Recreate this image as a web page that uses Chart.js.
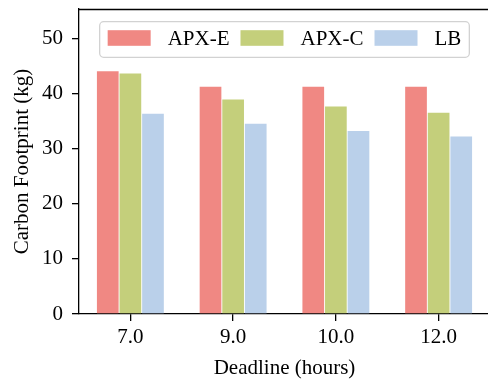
<!DOCTYPE html>
<html>
<head>
<meta charset="utf-8">
<script src="https://cdn.jsdelivr.net/npm/chart.js@4.4.0/dist/chart.umd.min.js"></script>
<style>
  html, body { margin: 0; padding: 0; background: #fff; overflow: hidden; }
</style>
</head>
<body>
<!-- a little wider than the window: the right spine sits just off-screen, as in the reference -->
<canvas id="chart" width="490" height="379"></canvas>
<script>
// data
const deadlines = ['7.0', '9.0', '10.0', '12.0'];
const apxE = [44.0, 41.2, 41.2, 41.2];
const apxC = [43.6, 38.9, 37.6, 36.5];
const lb = [36.3, 34.5, 33.2, 32.2];
const yTicks = [0, 10, 20, 30, 40, 50];

const FONT = "'Liberation Serif', 'Times New Roman', serif";
Chart.defaults.font.family = FONT;
Chart.defaults.font.size = 21;
Chart.defaults.color = '#000';

// matplotlib-style frame: top + right spine
const spines = {
    id: 'spines',
    afterDraw(chart) {
        const { ctx, chartArea: a } = chart;
        ctx.save();
        ctx.strokeStyle = '#000';
        ctx.lineWidth = 1.3;
        ctx.beginPath();
        ctx.moveTo(a.left, a.top + 0.5);
        ctx.lineTo(a.right, a.top + 0.5);
        ctx.lineTo(a.right, a.bottom);
        ctx.stroke();
        ctx.restore();
    },
};

// legend drawn inside the axes, upper centre, one row
const innerLegend = {
    id: 'innerLegend',
    afterDraw(chart) {
        const { ctx, chartArea: a } = chart;
        ctx.save();
        ctx.font = '21px ' + FONT;
        const items = chart.data.datasets.map(ds => ({
            label: ds.label,
            color: ds.backgroundColor,
            w: ctx.measureText(ds.label).width,
        }));
        const handle = 43, gap = 17, colSpace = 11, pad = 8;
        const total = items.reduce((s, it) => s + handle + gap + it.w, 0)
            + colSpace * (items.length - 1) + pad * 2;
        const x0 = (a.left + a.right) / 2 - total / 2;
        const y0 = 21.7, h = 35.6;

        ctx.fillStyle = 'rgba(255,255,255,0.8)';
        ctx.strokeStyle = '#d2d2d2';
        ctx.lineWidth = 1.3;
        ctx.beginPath();
        ctx.roundRect(x0, y0, total, h, 4);
        ctx.fill();
        ctx.stroke();

        let x = x0 + pad;
        const cy = y0 + h / 2 - 1.5;
        ctx.textBaseline = 'middle';
        ctx.textAlign = 'left';
        items.forEach(it => {
            ctx.fillStyle = it.color;
            ctx.fillRect(x, cy - 7.8, handle, 15.6);
            x += handle + gap;
            ctx.fillStyle = '#000';
            ctx.fillText(it.label, x, cy + 1);
            x += it.w + colSpace;
        });
        ctx.restore();
    },
};

new Chart(document.getElementById('chart'), {
    type: 'bar',
    data: {
        labels: deadlines,
        datasets: [
            { label: 'APX-E', data: apxE, backgroundColor: '#F08883' },
            { label: 'APX-C', data: apxC, backgroundColor: '#C4CF7B' },
            { label: 'LB', data: lb, backgroundColor: '#BAD0EA' },
        ],
    },
    options: {
        responsive: false,
        animation: false,
        layout: { padding: { top: 9, right: 0, left: 0, bottom: 0 } },
        datasets: {
            bar: { categoryPercentage: 0.66, barPercentage: 0.96, borderWidth: 0 },
        },
        plugins: {
            legend: { display: false },
            tooltip: { enabled: false },
        },
        scales: {
            x: {
                grid: {
                    drawOnChartArea: false, offset: false,
                    tickLength: 7, color: '#000', lineWidth: 1.3,
                },
                border: { color: '#000', width: 1.3 },
                ticks: { padding: 4, font: { size: 21 } },
                title: {
                    display: true, text: 'Deadline (hours)',
                    font: { size: 21 }, padding: { top: 0, bottom: -2 },
                },
                afterFit: (s) => { s.height = 65; s.paddingLeft = 0; s.paddingRight = 0; },
            },
            y: {
                min: 0,
                max: 55.3,
                grid: {
                    drawOnChartArea: false,
                    tickLength: 7, color: '#000', lineWidth: 1.3,
                },
                border: { color: '#000', width: 1.3 },
                ticks: { padding: 9, includeBounds: false, font: { size: 21 } },
                afterBuildTicks: (s) => { s.ticks = yTicks.map(v => ({ value: v })); },
                title: {
                    display: true, text: 'Carbon Footprint (kg)',
                    font: { size: 21 }, padding: { top: 10, bottom: 0 },
                },
                afterFit: (s) => { s.width = 79; s.paddingTop = 0; s.paddingBottom = 0; },
            },
        },
    },
    plugins: [spines, innerLegend],
});
</script>
</body>
</html>
